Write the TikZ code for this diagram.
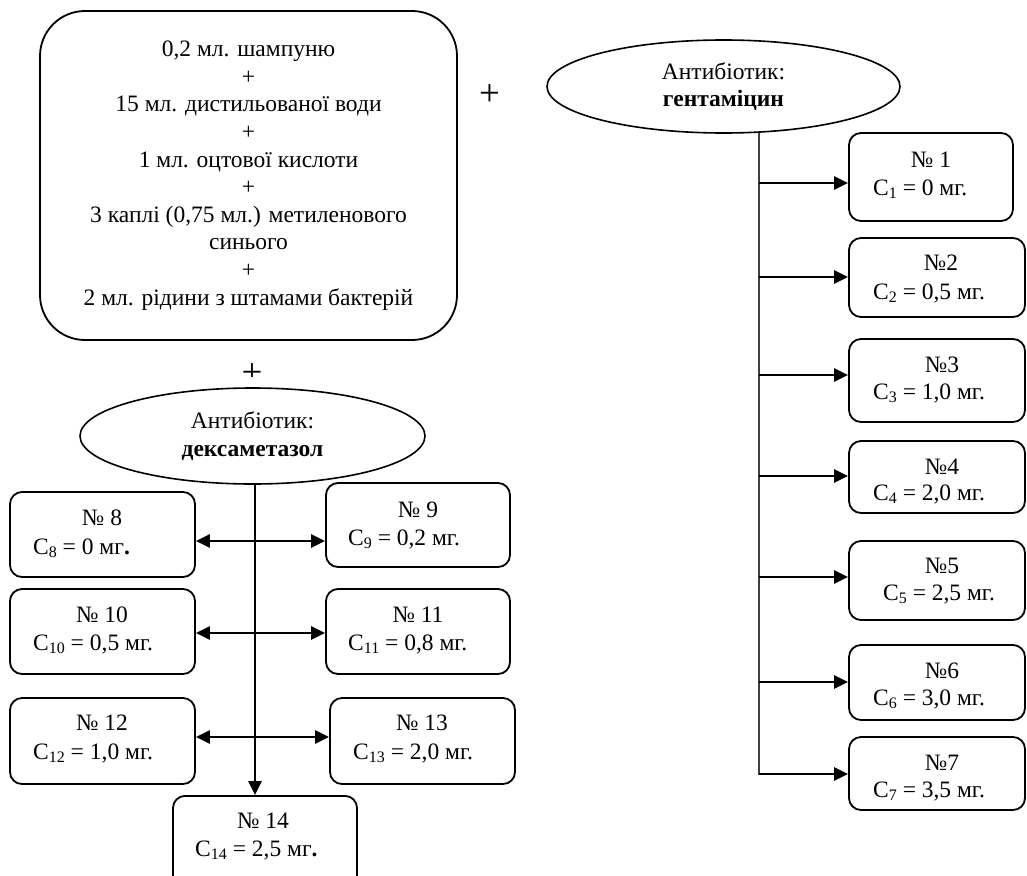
\documentclass[tikz,border=0pt]{standalone}
\usepackage{fontspec}
\setmainfont{Liberation Serif}
\usetikzlibrary{arrows.meta,shapes.geometric}
\newcommand\sbs[1]{\raisebox{-0.3ex}{\fontsize{16}{16}\selectfont #1}}
\begin{document}
\begin{tikzpicture}[x=1pt,y=-1pt,
  font=\fontsize{23.5}{27.6}\selectfont,
  bigbox/.style={draw, line width=1.8pt, rounded corners=45pt, inner sep=0pt, align=center},
  boxst/.style={draw, line width=1.8pt, rounded corners=12pt, inner sep=0pt},
  ellst/.style={draw, ellipse, line width=1.6pt, inner sep=0pt, align=center},
  lbl/.style={inner sep=0pt, anchor=base},
  lblw/.style={inner sep=0pt, anchor=base west},
  plus/.style={inner sep=0pt, anchor=base, font=\fontsize{37}{37}\selectfont},
  arr/.style={line width=2.6pt, -{Triangle[length=14pt,width=13pt]}},
  darr/.style={line width=2.6pt, {Triangle[length=14pt,width=13pt]}-{Triangle[length=14pt,width=13pt]}},
  thinln/.style={line width=1.2pt, draw=black!75}]
\useasboundingbox[fill=white] (0,0) rectangle (1027,875);

% top mixture box
\node[bigbox, minimum width=417pt, minimum height=329pt] (mix) at (248.5,175.5)
 {0,2 мл. шампуню\\+\\15 мл. дистильованої води\\+\\1 мл. оцтової кислоти\\+\\3 каплі (0,75 мл.) метиленового\\синього\\+\\2 мл. рідини з штамами бактерій};

\node[plus] (plusr) at (489.5,105) {+};
\begin{scope}
\clip (220,340) rectangle (285,376.5);
\node[plus] (plusb) at (252,384.5) {+};
\end{scope}

% ellipses
\node[ellst, minimum width=353pt, minimum height=93pt] (gent) at (723.5,86.5) {Антибіотик:\\\textbf{гентаміцин}};
\node[ellst, minimum width=345pt, minimum height=96pt] (dex) at (252.5,436) {Антибіотик:\\\textbf{дексаметазол}};

% right boxes
\node[boxst, minimum width=164pt, minimum height=88pt] (b1) at (931,177) {};
\node[boxst, minimum width=176pt, minimum height=79pt] (b2) at (937,277.5) {};
\node[boxst, minimum width=176pt, minimum height=83pt] (b3) at (937,380.5) {};
\node[boxst, minimum width=176pt, minimum height=72pt] (b4) at (937,477) {};
\node[boxst, minimum width=176pt, minimum height=79pt] (b5) at (937,580.5) {};
\node[boxst, minimum width=176pt, minimum height=75pt] (b6) at (937,682.5) {};
\node[boxst, minimum width=176pt, minimum height=73pt] (b7) at (937,773.5) {};

\node[lbl] (t1a) at (931,167) {№ 1};
\node[lblw] (t1b) at (873,195) {C\sbs{1} = 0 мг.};
\node[lbl] (t2a) at (941,270) {№2};
\node[lblw] (t2b) at (873,299) {C\sbs{2} = 0,5 мг.};
\node[lbl] (t3a) at (942,372) {№3};
\node[lblw] (t3b) at (873,399) {C\sbs{3} = 1,0 мг.};
\node[lbl] (t4a) at (942,474) {№4};
\node[lblw] (t4b) at (873,500) {C\sbs{4} = 2,0 мг.};
\node[lbl] (t5a) at (942,573) {№5};
\node[lblw] (t5b) at (883,600) {C\sbs{5} = 2,5 мг.};
\node[lbl] (t6a) at (942,678) {№6};
\node[lblw] (t6b) at (873,705) {C\sbs{6} = 3,0 мг.};
\node[lbl] (t7a) at (942,770) {№7};
\node[lblw] (t7b) at (873,797) {C\sbs{7} = 3,5 мг.};

% right connectors
\coordinate (rtop) at (759,133);
\coordinate (rbot) at (759,775);
\draw[thinln] (rtop) -- (rbot);
\foreach \b/\yy in {b1/183,b2/277,b3/375,b4/476,b5/577,b6/682,b7/774}
  \draw[arr] (759,\yy) -- (\b.west |- 0,\yy);

% left boxes
\node[boxst, minimum width=185pt, minimum height=85pt] (b8) at (102.5,534.5) {};
\node[boxst, minimum width=184pt, minimum height=84pt] (b9) at (418,525) {};
\node[boxst, minimum width=185pt, minimum height=85pt] (b10) at (102.5,631.5) {};
\node[boxst, minimum width=184pt, minimum height=85pt] (b11) at (418,631.5) {};
\node[boxst, minimum width=185pt, minimum height=86pt] (b12) at (102.5,741) {};
\node[boxst, minimum width=185pt, minimum height=86pt] (b13) at (422.5,741) {};
\node[boxst, minimum width=184pt, minimum height=100pt, anchor=north] (b14) at (265,795) {};

\node[lbl] (t8a) at (102,525) {№ 8};
\node[lblw] (t8b) at (33,554) {C\sbs{8} = 0 мг\textbf{.}};
\node[lbl] (t9a) at (418,517) {№ 9};
\node[lblw] (t9b) at (348,545) {C\sbs{9} = 0,2 мг.};
\node[lbl] (t10a) at (102,622) {№ 10};
\node[lblw] (t10b) at (33,650) {C\sbs{10} = 0,5 мг.};
\node[lbl] (t11a) at (418,622) {№ 11};
\node[lblw] (t11b) at (348,650) {C\sbs{11} = 0,8 мг.};
\node[lbl] (t12a) at (102,730) {№ 12};
\node[lblw] (t12b) at (33,759) {C\sbs{12} = 1,0 мг.};
\node[lbl] (t13a) at (422,730) {№ 13};
\node[lblw] (t13b) at (353,759) {C\sbs{13} = 2,0 мг.};
\node[lbl] (t14a) at (263,828) {№ 14};
\node[lblw] (t14b) at (195,856) {C\sbs{14} = 2,5 мг\textbf{.}};

% left connectors
\coordinate (ltop) at (255,484);
\draw[arr] (ltop) -- (b14.north -| ltop);
\draw[darr] (b8.east |- 0,541) -- (b9.west |- 0,541);
\draw[darr] (b10.east |- 0,633) -- (b11.west |- 0,633);
\draw[darr] (b12.east |- 0,737) -- (b13.west |- 0,737);
\end{tikzpicture}
\end{document}
